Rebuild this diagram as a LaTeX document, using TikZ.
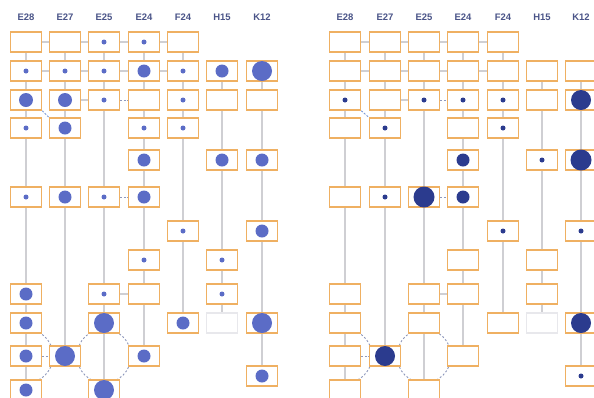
\documentclass[tikz,border=0pt]{standalone}
\usepackage{fontspec}
\setmainfont{Liberation Sans}
\usetikzlibrary{backgrounds}
\definecolor{boxor}{HTML}{EFB062}
\definecolor{dotl}{HTML}{5B6CC6}
\definecolor{dotr}{HTML}{2B3B8E}
\definecolor{hdrc}{HTML}{4A5488}
\definecolor{linegray}{HTML}{CFCFD3}
\definecolor{ringc}{HTML}{8E98BC}
\definecolor{diagc}{HTML}{7C9BD8}
\definecolor{faintc}{HTML}{E8E8EC}
\pgfdeclarelayer{bgzero}
\pgfsetlayers{bgzero,background,main}
\tikzset{
  cellbox/.style={draw=boxor, line width=1.5bp, fill=white, minimum width=31bp, minimum height=20bp, inner sep=0pt},
  faintbox/.style={cellbox, draw=faintc},
  vline/.style={draw=linegray, line width=1.2bp},
  hlink/.style={draw=linegray, line width=1.2bp},
  dlink/.style={draw=ringc, line width=0.9bp, dash pattern=on 2bp off 1.5bp},
  ring/.style={draw=ringc, line width=0.9bp, dash pattern=on 2bp off 2bp},
  hdr/.style={font=\bfseries\fontsize{9.5}{11}\selectfont, text=hdrc, inner sep=0pt}
}
\newcommand\panellinks[1]{%
  \begin{pgfonlayer}{background}
    \draw[vline] (#1-1-1.center) -- (#1-1-12.center);
    \draw[vline] (#1-2-1.center) -- (#1-2-11.center);
    \draw[vline] (#1-3-1.center) -- (#1-3-12.center);
    \draw[vline] (#1-4-1.center) -- (#1-4-11.center);
    \draw[vline] (#1-5-1.center) -- (#1-5-10.center);
    \draw[vline] (#1-6-2.center) -- (#1-6-10.center);
    \draw[vline] (#1-7-2.center) -- (#1-7-13.center);
    \draw[hlink] (#1-1-1) -- (#1-2-1);
    \draw[hlink] (#1-2-1) -- (#1-3-1);
    \draw[hlink] (#1-3-1) -- (#1-4-1);
    \draw[hlink] (#1-4-1) -- (#1-5-1);
    \draw[hlink] (#1-1-2) -- (#1-2-2);
    \draw[hlink] (#1-2-2) -- (#1-3-2);
    \draw[hlink] (#1-3-2) -- (#1-4-2);
    \draw[hlink] (#1-4-2) -- (#1-5-2);
    \draw[hlink] (#1-2-3) -- (#1-3-3);
    \draw[dlink] (#1-3-3) -- (#1-4-3);
    \draw[dlink] (#1-3-6) -- (#1-4-6);
    \draw[hlink] (#1-3-9) -- (#1-4-9);
    \draw[dlink] (#1-1-11) -- (#1-2-11);
    \draw[dlink, draw=diagc] (#1-1-3.south east) -- (#1-2-4.north west);
    \draw[ring] (#1-3-10 |- #1-1-11) circle (27bp);
    \draw[ring] (#1-1-11.center) ++(70:27bp) arc (70:-70:27bp);
  \end{pgfonlayer}}
\begin{document}
\begin{tikzpicture}[x=1bp, y=-1bp]
\useasboundingbox (0,0) rectangle (594,397);
\begin{pgfonlayer}{bgzero}
  \fill[white] (0,0) rectangle (594,397);
\end{pgfonlayer}
\clip (0,0) rectangle (594,397);
% headers
\foreach \c/\t in {1/E28,2/E27,3/E25,4/E24,5/F24,6/H15,7/K12}{
  \pgfmathsetmacro\xx{{26,65,104,144,183,222,262}[\c-1]}
  \pgfmathsetmacro\xr{{345,385,424,463,503,542,581}[\c-1]}
  \node[hdr] (L-h\c) at (\xx,17) {\t};
  \node[hdr] (R-h\c) at (\xr,17) {\t};
}
% left panel cells
\foreach \c/\r/\d in {1/1/0, 1/2/2.5, 1/3/7, 1/4/2.5, 1/6/2.5, 1/9/6.5, 1/10/6.5, 1/11/6.5, 1/12/6.5,
  2/1/0, 2/2/2.5, 2/3/7, 2/4/6.5, 2/6/6.5, 2/11/10,
  3/1/2.5, 3/2/2.5, 3/3/2.5, 3/6/2.5, 3/9/2.5, 3/10/10, 3/12/10,
  4/1/2.5, 4/2/6.5, 4/3/0, 4/4/2.5, 4/5/6.5, 4/6/6.5, 4/8/2.5, 4/9/0, 4/11/6.5,
  5/1/0, 5/2/2.5, 5/3/2.5, 5/4/2.5, 5/7/2.5, 5/10/6.5,
  6/2/6.5, 6/3/0, 6/5/6.5, 6/8/2.5, 6/9/2.5,
  7/2/10, 7/3/0, 7/5/6.5, 7/7/6.5, 7/10/10, 7/13/6.5}{
  \pgfmathsetmacro\xx{{26,65,104,144,183,222,262}[\c-1]}
  \pgfmathsetmacro\yy{{42,71,100,128,160,197,231,260,294,323,356,390,376}[\r-1]}
  \node[cellbox] (L-\c-\r) at (\xx,\yy) {};
  \ifdim\d pt>0pt \fill[dotl] (L-\c-\r.center) circle (\d bp);\fi
}
\node[faintbox] (L-6-10) at (222,323) {};
% right panel cells
\foreach \c/\r/\d in {1/1/0, 1/2/0, 1/3/2.5, 1/4/0, 1/6/0, 1/9/0, 1/10/0, 1/11/0, 1/12/0,
  2/1/0, 2/2/0, 2/3/0, 2/4/2.5, 2/6/2.5, 2/11/10,
  3/1/0, 3/2/0, 3/3/2.5, 3/6/10.5, 3/9/0, 3/10/0, 3/12/0,
  4/1/0, 4/2/0, 4/3/2.5, 4/4/0, 4/5/6.5, 4/6/6.5, 4/8/0, 4/9/0, 4/11/0,
  5/1/0, 5/2/0, 5/3/2.5, 5/4/2.5, 5/7/2.5, 5/10/0,
  6/2/0, 6/3/0, 6/5/2.5, 6/8/0, 6/9/0,
  7/2/0, 7/3/10, 7/5/10.5, 7/7/2.5, 7/10/10, 7/13/2.5}{
  \pgfmathsetmacro\xx{{345,385,424,463,503,542,581}[\c-1]}
  \pgfmathsetmacro\yy{{42,71,100,128,160,197,231,260,294,323,356,390,376}[\r-1]}
  \node[cellbox] (R-\c-\r) at (\xx,\yy) {};
  \ifdim\d pt>0pt \fill[dotr] (R-\c-\r.center) circle (\d bp);\fi
}
\node[faintbox] (R-6-10) at (542,323) {};
\panellinks{L}
\panellinks{R}
\end{tikzpicture}
\end{document}
